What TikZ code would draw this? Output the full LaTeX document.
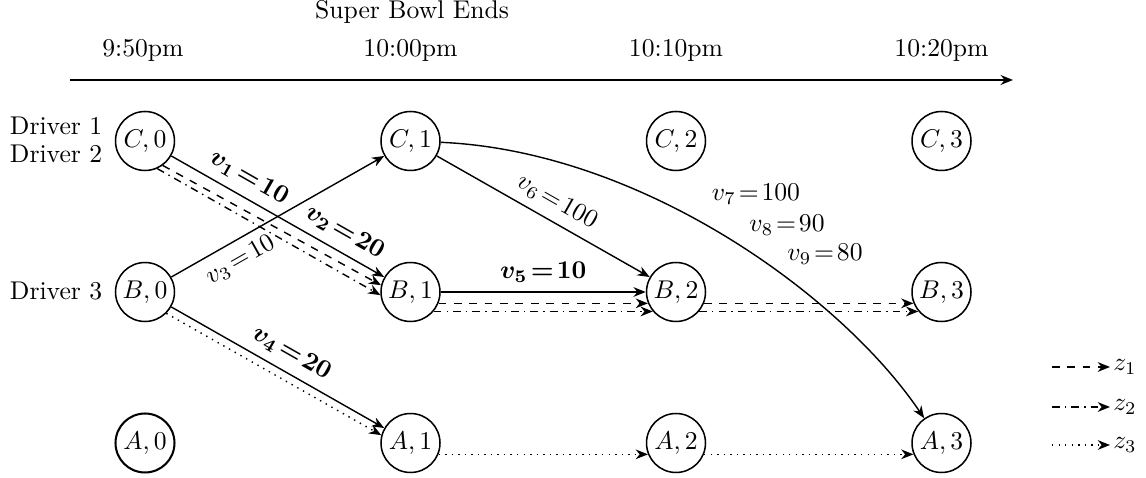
\documentclass[tikz,border=0pt]{standalone}
\usetikzlibrary{arrows.meta}
\begin{document}
\begin{tikzpicture}[x=0.39pt,y=-0.39pt,line width=0.55pt,
  >={Stealth[length=4.8pt,width=3.8pt]},
  st/.style={circle,draw,line width=0.6pt,minimum size=23pt,inner sep=0pt},
  lbl/.style={font=\boldmath},
  tl/.style={anchor=base},
  dr/.style={anchor=base east,inner sep=0pt}]
\useasboundingbox (0,0) rectangle (1146,478);
% timeline
\coordinate (t0) at (70,80);
\coordinate (t1) at (1013,80);
\draw[line width=0.9pt,->] (t0) -- (t1);
\node[tl] (sb) at (412,19) {Super Bowl Ends};
\node[tl] (h0) at (143,57) {9:50pm};
\node[tl] (h1) at (410.5,57) {10:00pm};
\node[tl] (h2) at (676,57) {10:10pm};
\node[tl] (h3) at (941.5,57) {10:20pm};
% drivers
\node[dr] (d1) at (103,135) {Driver 1};
\node[dr] (d2) at (103,163) {Driver 2};
\node[dr] (d3) at (103,300) {Driver 3};
% states
\node[st] (C0) at (145,141) {$C,0$};
\node[st] (C1) at (410.5,141) {$C,1$};
\node[st] (C2) at (676,141) {$C,2$};
\node[st] (C3) at (941.5,141) {$C,3$};
\node[st] (B0) at (145,292) {$B,0$};
\node[st] (B1) at (410.5,292) {$B,1$};
\node[st] (B2) at (676,292) {$B,2$};
\node[st] (B3) at (941.5,292) {$B,3$};
\node[st,line width=0.8pt] (A0) at (145,443) {$A,0$};
\node[st] (A1) at (410.5,443) {$A,1$};
\node[st] (A2) at (676,443) {$A,2$};
\node[st] (A3) at (941.5,443) {$A,3$};
% C0 -> B1
\draw[->] (C0) -- node[lbl,above,sloped,pos=0.32] {$v_1\!=\!10$}
  node[lbl,above,sloped,pos=0.77] {$v_2\!=\!20$} (B1);
\draw[->,dashed] (C0.-54) -- (B1.167);
\draw[->,dashdotted] (C0.-66) -- (B1.186);
% B0 -> C1
\draw[->] (B0) -- node[below,sloped,pos=0.28] {$v_3\!=\!10$} (C1);
% B0 -> A1
\draw[->] (B0) -- node[lbl,above,sloped,pos=0.52] {$v_4\!=\!20$} (A1);
\draw[->,dotted] (B0.-45) -- (A1.165);
% B1 -> B2
\draw[->] (B1) -- node[lbl,above] {$v_5\!=\!10$} (B2);
\draw[->,dashed] (B1.-22) -- (B2.-158);
\draw[->,dashdotted] (B1.-40) -- (B2.-140);
% B2 -> B3
\draw[->,dashed] (B2.-22) -- (B3.-158);
\draw[->,dashdotted] (B2.-40) -- (B3.-140);
% C1 -> B2
\draw[->] (C1) -- node[above,sloped,pos=0.52] {$v_6\!=\!100$} (B2);
% C1 -> A3
\draw[->] (C1) .. controls (641,151) and (841,295) .. (A3.125);
\node[anchor=base] (v7) at (756,201) {$v_7\!=\!100$};
\node[anchor=base] (v8) at (787,232) {$v_8\!=\!90$};
\node[anchor=base] (v9) at (825,261) {$v_9\!=\!80$};
% A row
\draw[->,dotted] (A1.-22) -- (A2.-158);
\draw[->,dotted] (A2.-22) -- (A3.-158);
% legend
\coordinate (l1a) at (1052,367); \coordinate (l1b) at (1110,367);
\coordinate (l2a) at (1052,407); \coordinate (l2b) at (1110,407);
\coordinate (l3a) at (1052,445); \coordinate (l3b) at (1110,445);
\draw[->,dashed] (l1a) -- (l1b);
\draw[->,dashdotted] (l2a) -- (l2b);
\draw[->,dotted] (l3a) -- (l3b);
\node[anchor=west,inner sep=1pt] (z1) at (l1b) {$z_1$};
\node[anchor=west,inner sep=1pt] (z2) at (l2b) {$z_2$};
\node[anchor=west,inner sep=1pt] (z3) at (l3b) {$z_3$};
\end{tikzpicture}
\end{document}
